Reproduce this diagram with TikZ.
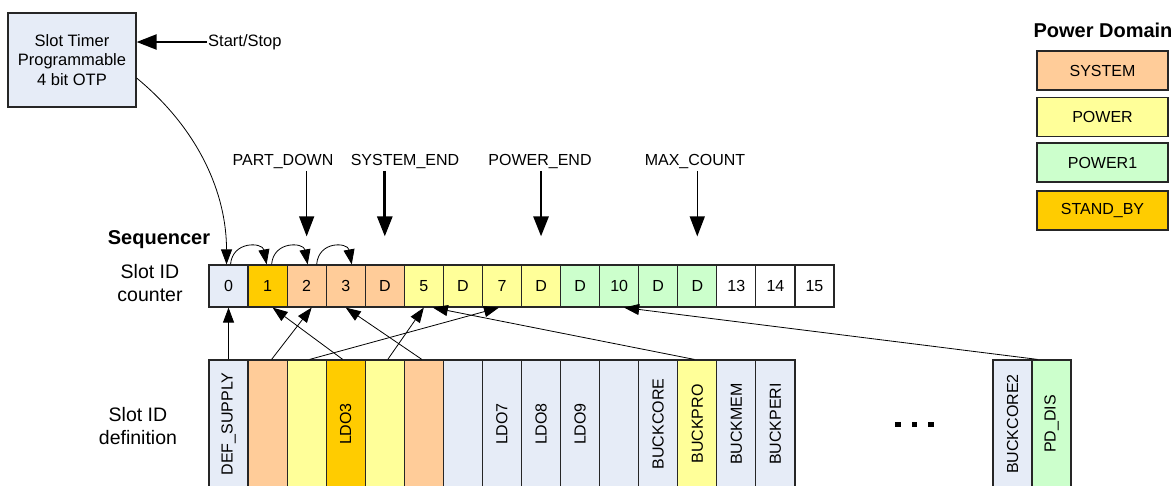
\documentclass[tikz,border=0pt]{standalone}
\usepackage{fontspec}
\setmainfont{Liberation Sans}
\usetikzlibrary{arrows.meta}

\tikzset{
	cell/.style={draw=black!85, line width=1.2pt, minimum width=39.06pt, minimum height=42pt, inner sep=0pt, font=\fontsize{16}{19}\selectfont},
	slotcol/.style={draw=black!85, line width=1.2pt, minimum width=39.06pt, minimum height=128pt, inner sep=0pt, font=\fontsize{16}{19}\selectfont},
	legendbox/.style={draw=black!85, line width=1.2pt, minimum width=131pt, minimum height=39pt, inner sep=0pt, font=\fontsize{16}{19}\selectfont},
	marklabel/.style={anchor=base, inner sep=2pt, font=\fontsize{16}{19}\selectfont},
	bighead/.style={-{Triangle[length=20pt,width=15pt]}},
	smallhead/.style={-{Triangle[length=15pt,width=11pt]}, line width=0.8pt},
}

\begin{document}
\begin{tikzpicture}[x=1pt,y=-1pt]
	\definecolor{sblue}{RGB}{230,236,247}
	\definecolor{sorange}{RGB}{255,204,0}
	\definecolor{ssalmon}{RGB}{255,204,153}
	\definecolor{syellow}{RGB}{255,255,153}
	\definecolor{sgreen}{RGB}{204,255,204}
	\useasboundingbox (0,0) rectangle (1176,485);
	\clip (0,0) rectangle (1176,485);

	% slot timer
	\node[draw=black!85, line width=1.2pt, fill=sblue, minimum width=128pt, minimum height=94pt, align=center, font=\fontsize{16.5}{19.5}\selectfont] (tmr) at (72,60) {Slot Timer\\Programmable\\4 bit OTP};
	\node[anchor=west, inner sep=1pt, font=\fontsize{16.5}{19.5}\selectfont] (ss) at (207,42) {Start/Stop};
	\draw[bighead, line width=2.2pt] (ss.west) -- (ss.west -| tmr.east);

	% sequencer row
	\node[font=\bfseries\fontsize{20}{24}\selectfont] (seq) at (159,240) {Sequencer};
	\node[align=center, font=\fontsize{19.5}{23}\selectfont] (cntlbl) at (150,283) {Slot ID\\counter};
	\foreach \i/\t/\c in {0/0/sblue,1/1/sorange,2/2/ssalmon,3/3/ssalmon,4/D/ssalmon,5/5/syellow,6/D/syellow,7/7/syellow,8/D/syellow,9/D/sgreen,10/10/sgreen,11/D/sgreen,12/D/sgreen,13/13/white,14/14/white,15/15/white}
		\node[cell, fill=\c] (c\i) at ({209+39.0625*(\i+0.5)},286) {\t};

	\draw[smallhead] ([yshift=-18]tmr.east) .. controls +(63,52) and +(0,-70) .. ([xshift=-2]c0.north);
	\foreach \a/\b/\s/\e in {0/1/2/-1,1/2/4/1,2/3/10/6}
		\draw[smallhead] ([xshift=\s]c\a.north) .. controls +(2,-24) and +(-4,-22) .. ([xshift=\e]c\b.north);

	% markers
	\node[marklabel] (partdown) at (283,165.5) {PART\_DOWN};
	\node[marklabel] (sysend) at (405,165.5) {SYSTEM\_END};
	\node[marklabel] (pwrend) at (540,165.5) {POWER\_END};
	\node[marklabel] (maxcnt) at (695,165.5) {MAX\_COUNT};
	\draw[bighead, line width=1.3pt] (partdown.south -| c2.north) -- ([yshift=28]c2.north);
	\draw[bighead, line width=2.8pt] (sysend.south -| c4.north) -- ([yshift=28]c4.north);
	\draw[bighead, line width=2.8pt] (pwrend.south -| c8.north) -- ([yshift=28]c8.north);
	\draw[bighead, line width=1.3pt] (maxcnt.south -| c12.north) -- ([yshift=28]c12.north);

	% slot id definition
	\node[align=center, font=\fontsize{19.5}{23}\selectfont] (deflbl) at (138,426) {Slot ID\\definition};
	\foreach \i/\t/\c in {0/DEF\_SUPPLY/sblue,1//ssalmon,2//syellow,3/LDO3/sorange,4//syellow,5//ssalmon,6//sblue,7/LDO7/sblue,8/LDO8/sblue,9/LDO9/sblue,10//sblue,11/BUCKCORE/sblue,12/BUCKPRO/syellow,13/BUCKMEM/sblue,14/BUCKPERI/sblue}
		\node[slotcol, fill=\c] (d\i) at ({209+39.0625*(\i+0.5)},424) {\rotatebox{90}{\t}};
	\node[slotcol, fill=sblue] (dcore2) at (1012.5,424) {\rotatebox{90}{BUCKCORE2}};
	\node[slotcol, fill=sgreen] (ddis) at (1051.5,424) {\rotatebox{90}{PD\_DIS}};
	\foreach \x in {898,914.5,931}
		\fill (\x-2.8,421.5) rectangle (\x+2.8,427);

	\draw[smallhead] (d0.north) -- (c0.south);
	\draw[smallhead] ([xshift=-3]d3.north) -- ([xshift=5]c1.south);
	\draw[smallhead] ([xshift=4]d1.north) -- ([xshift=5]c2.south);
	\draw[smallhead] ([xshift=-2]d5.north) -- (c3.south);
	\draw[smallhead] ([xshift=3]d4.north) -- (c5.south);
	\draw[smallhead] ([xshift=3]d2.north) -- ([xshift=-3]c7.south);
	\draw[smallhead] ([xshift=-3]d12.north) -- ([xshift=9]c5.south);
	\draw[smallhead] ([xshift=-14]ddis.north) -- ([xshift=5]c10.south);

	% legend
	\node[font=\bfseries\fontsize{20}{24}\selectfont] (pdtitle) at (1103,30) {Power Domain};
	\foreach \n/\t/\c/\y in {sys/SYSTEM/ssalmon/70.5,pwr/POWER/syellow/117,pwr1/POWER1/sgreen/162.5,stby/STAND\_BY/sorange/210.5}
		\node[legendbox, fill=\c] (\n) at (1102.5,\y) {\t};
\end{tikzpicture}
\end{document}
